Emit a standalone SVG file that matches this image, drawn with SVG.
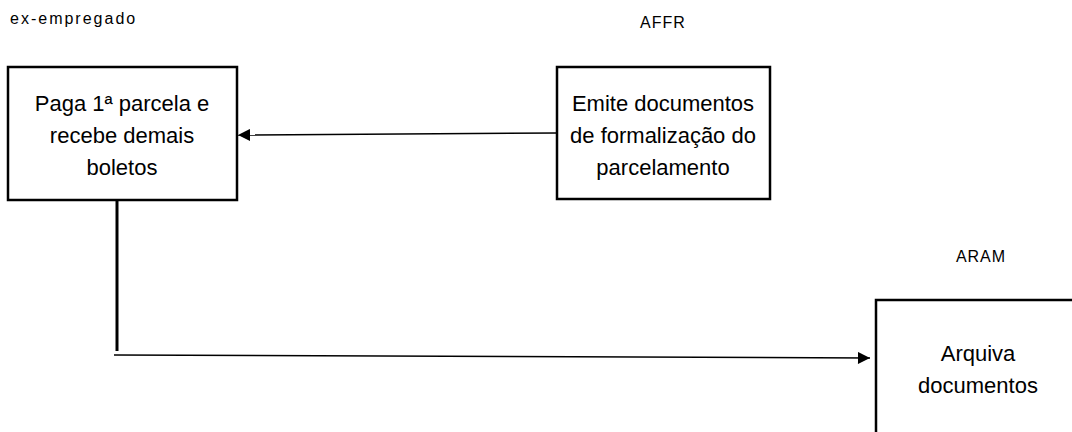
<svg xmlns="http://www.w3.org/2000/svg" width="1072" height="432" viewBox="0 0 1072 432">
<style>
.box{fill:#fff;stroke:#000;stroke-width:2.5}
.t{font-family:"Liberation Sans",Arial,sans-serif;font-size:22px;fill:#000;text-anchor:middle}
.lbl{font-family:"Liberation Sans",Arial,sans-serif;font-size:16px;fill:#000;letter-spacing:1px}
.c{stroke:#000;fill:none}
</style>
<defs>
<marker id="ah" viewBox="0 0 10 10" refX="10" refY="5" markerWidth="14" markerHeight="12" markerUnits="userSpaceOnUse" orient="auto">
<path d="M0,0 L10,5 L0,10 Z" fill="#000"/>
</marker>
</defs>
<text class="lbl" x="10" y="24" style="letter-spacing:2px">ex-empregado</text>
<text class="lbl" x="663" y="28" text-anchor="middle">AFFR</text>
<text class="lbl" x="981" y="262" text-anchor="middle">ARAM</text>
<g id="connectors">
<line class="c" x1="557" y1="133" x2="238" y2="135" stroke-width="1.5" marker-end="url(#ah)"/>
<line class="c" x1="117" y1="200" x2="117" y2="351" stroke-width="3"/>
<line class="c" x1="114" y1="355" x2="870" y2="358" stroke-width="1.5" marker-end="url(#ah)"/>
</g>
<g id="n1">
<rect class="box" x="8" y="67" width="229" height="133"/>
<text class="t" x="122" y="111">Paga 1ª parcela e</text>
<text class="t" x="122" y="143">recebe demais</text>
<text class="t" x="122" y="175">boletos</text>
</g>
<g id="n2">
<rect class="box" x="557" y="67" width="213" height="132"/>
<text class="t" x="663" y="111">Emite documentos</text>
<text class="t" x="663" y="143">de formalização do</text>
<text class="t" x="663" y="175">parcelamento</text>
</g>
<g id="n3">
<rect class="box" x="876" y="300" width="210" height="150"/>
<text class="t" x="978" y="361">Arquiva</text>
<text class="t" x="978" y="393">documentos</text>
</g>
</svg>
